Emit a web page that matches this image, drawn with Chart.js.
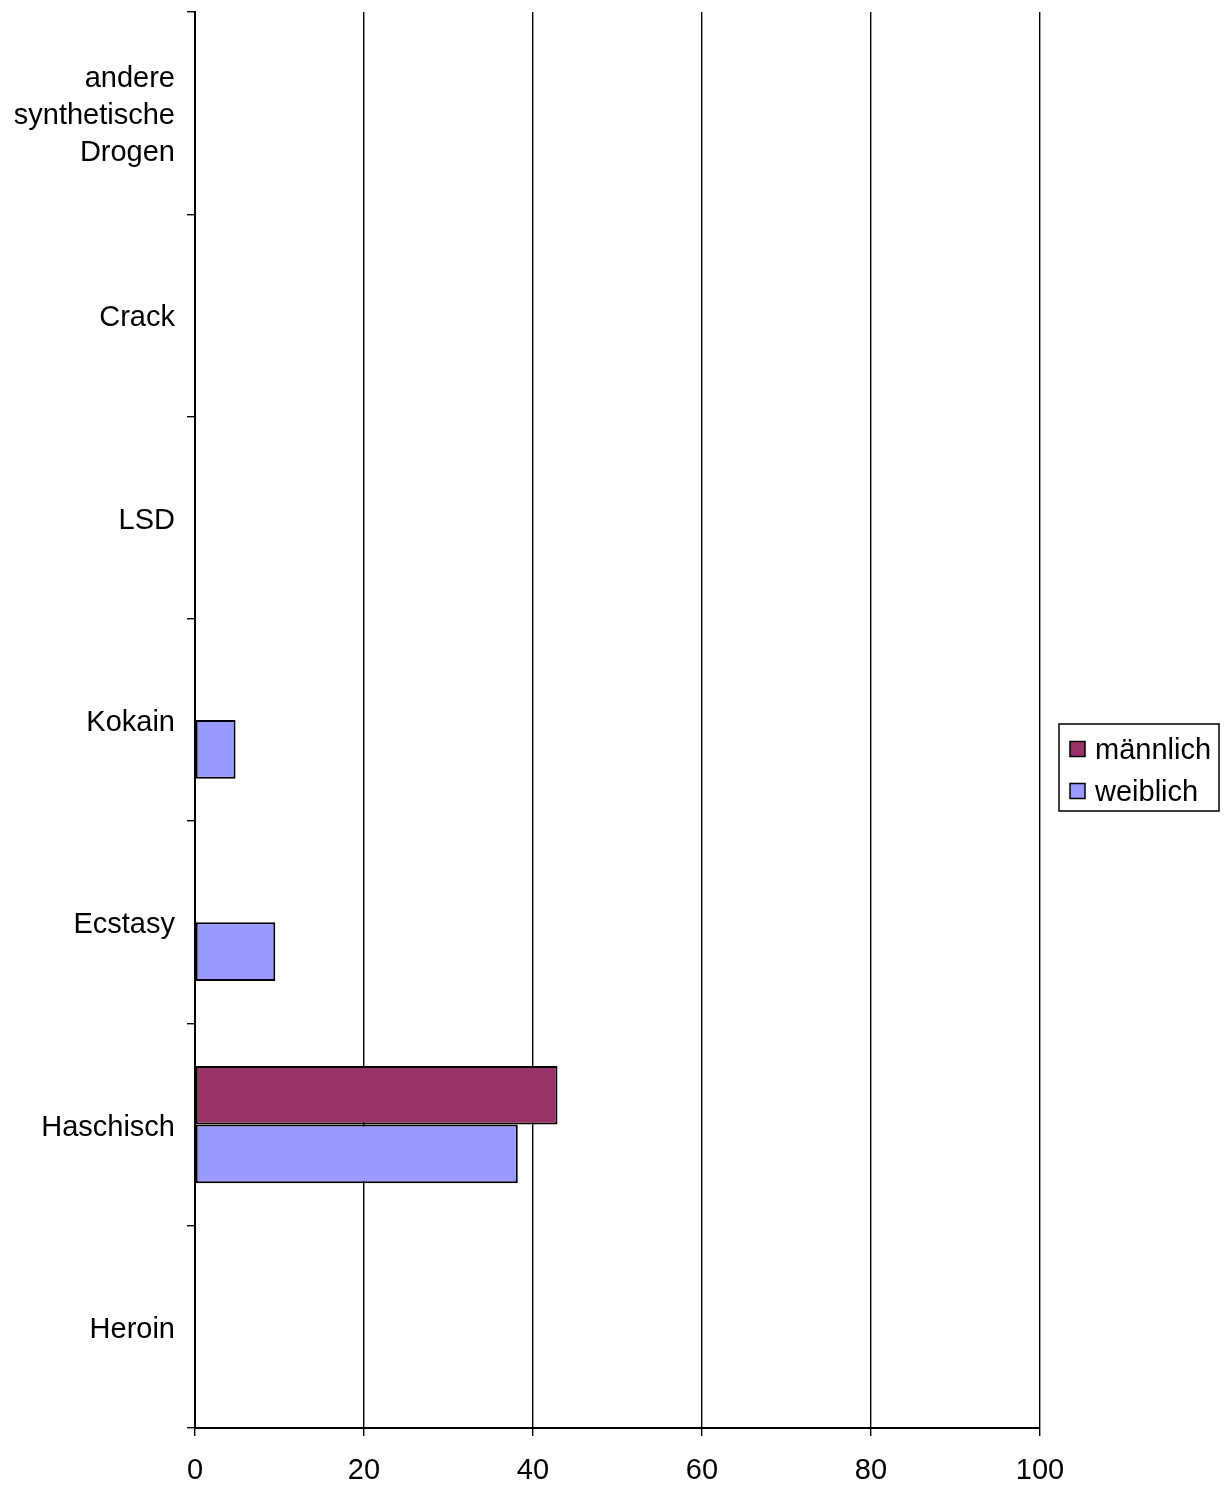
<!DOCTYPE html>
<html>
<head>
<meta charset="utf-8">
<title>Drogen nach Geschlecht</title>
<script src="https://cdn.jsdelivr.net/npm/chart.js@4/dist/chart.umd.min.js"></script>
<style>
  html, body { margin: 0; padding: 0; background: #fff; }
  #wrap { position: relative; width: 1231px; height: 1486px; }
</style>
</head>
<body>
<div id="wrap"><canvas id="chart"></canvas></div>
<script>
"use strict";

// categories, top to bottom
var categories = [['andere', 'synthetische', 'Drogen'], 'Crack', 'LSD', 'Kokain', 'Ecstasy', 'Haschisch', 'Heroin'];
var seriesNames = ['männlich', 'weiblich'];
var maleValues = [0, 0, 0, 0, 0, 42.9, 0];
var femaleValues = [0, 0, 0, 4.8, 9.5, 38.2, 0];
var xTicks = [0, 20, 40, 60, 80, 100];

var fontFamily = '"Liberation Sans", Arial, sans-serif';
var maleColor = '#993366';
var femaleColor = '#9999FF';

// Excel style legend: boxed, to the right of the plot
var boxedLegend = {
    id: 'boxedLegend',
    afterDraw: function (chart) {
        var ctx = chart.ctx;
        var area = chart.chartArea;
        var left = area.right + 19;
        var top = 724;
        var w = 160, h = 87;
        ctx.save();
        ctx.fillStyle = '#fff';
        ctx.fillRect(left, top, w, h);
        ctx.strokeStyle = '#000';
        ctx.lineWidth = 1.5;
        ctx.strokeRect(left, top, w, h);
        ctx.font = '29px ' + fontFamily;
        ctx.textBaseline = 'middle';
        chart.data.datasets.forEach(function (ds, i) {
            var cy = top + 25 + i * 42;
            ctx.fillStyle = ds.backgroundColor;
            ctx.fillRect(left + 11, cy - 7.5, 15, 15);
            ctx.lineWidth = 1.5;
            ctx.strokeRect(left + 11, cy - 7.5, 15, 15);
            ctx.fillStyle = '#000';
            ctx.fillText(ds.label, left + 36, cy + 2);
        });
        ctx.restore();
    }
};

var ctx = document.getElementById('chart');

var chart = new Chart(ctx, {
    type: 'bar',
    data: {
        labels: categories,
        datasets: [{
            label: seriesNames[0],
            data: maleValues,
            backgroundColor: maleColor,
            borderColor: '#000',
            borderWidth: 2,
            borderSkipped: false
        }, {
            label: seriesNames[1],
            data: femaleValues,
            backgroundColor: femaleColor,
            borderColor: '#000',
            borderWidth: 2,
            borderSkipped: false
        }]
    },
    options: {
        indexAxis: 'y',
        responsive: true,
        maintainAspectRatio: false,
        animation: false,
        categoryPercentage: 0.58,
        barPercentage: 1,
        layout: {
            padding: { left: 0, right: 191, top: 12, bottom: 0 }
        },
        plugins: {
            legend: { display: false },
            tooltip: { enabled: false },
            title: { display: false }
        },
        scales: {
            x: {
                min: 0,
                max: 100,
                afterBuildTicks: function (scale) {
                    scale.ticks = xTicks.map(function (v) { return { value: v }; });
                },
                afterFit: function (scale) {
                    scale.height = 58;
                },
                grid: {
                    color: '#000',
                    lineWidth: 1.4,
                    tickLength: 8,
                    drawTicks: true
                },
                border: { color: '#000', width: 2 },
                ticks: {
                    color: '#000',
                    padding: 18,
                    maxRotation: 0,
                    font: { family: fontFamily, size: 29 }
                }
            },
            y: {
                afterFit: function (scale) {
                    scale.width = 195;
                    scale.paddingTop = 0;
                    scale.paddingBottom = 0;
                },
                grid: {
                    color: '#000',
                    lineWidth: 1.4,
                    drawOnChartArea: false,
                    drawTicks: true,
                    tickLength: 8,
                    offset: true
                },
                border: { color: '#000', width: 2 },
                ticks: {
                    color: '#000',
                    padding: 12,
                    labelOffset: 3,
                    font: { family: fontFamily, size: 29, lineHeight: 1.27 }
                }
            }
        }
    },
    plugins: [boxedLegend]
});
</script>
</body>
</html>
